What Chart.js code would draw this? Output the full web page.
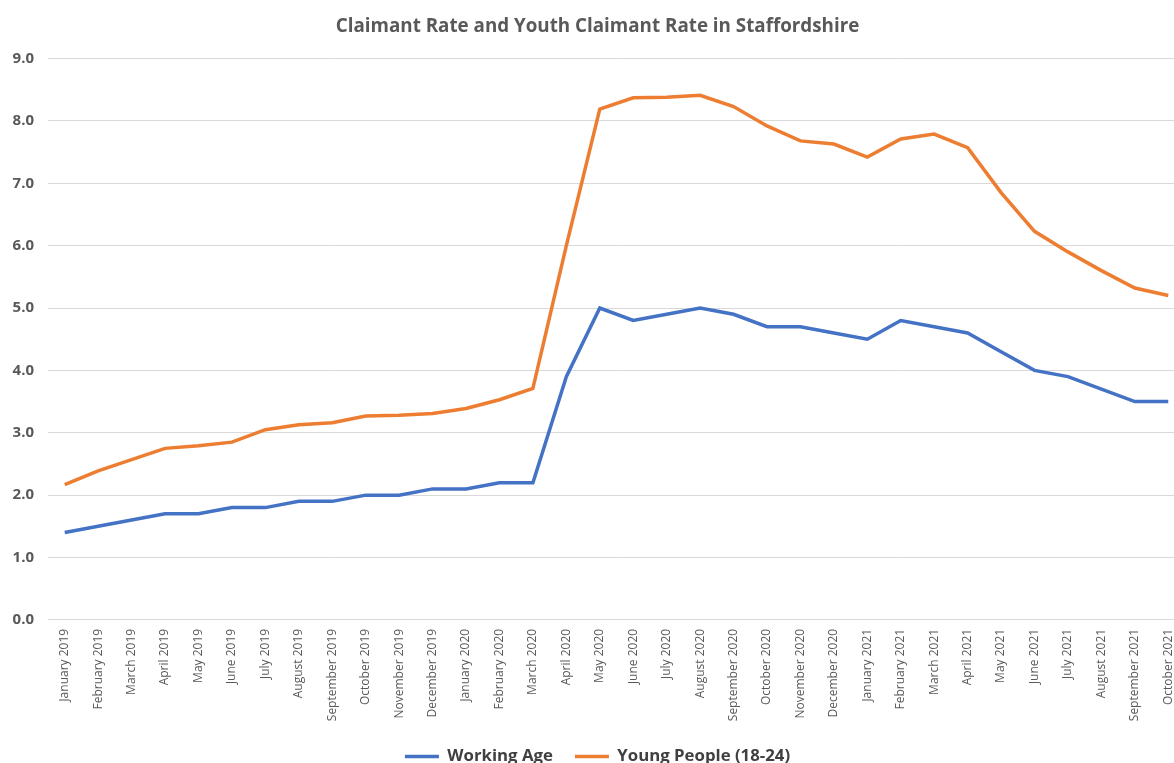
<!DOCTYPE html>
<html lang="en">
<head>
<meta charset="utf-8">
<title>Claimant Rate and Youth Claimant Rate in Staffordshire</title>
<script src="https://cdn.jsdelivr.net/npm/chart.js@4/dist/chart.umd.min.js"></script>
<style>
  html, body { margin: 0; padding: 0; background: #fff; }
  #wrap { width: 1174px; height: 763px; overflow: hidden; position: relative; }
  #claimantChart { display: block; }
</style>
</head>
<body>
<div id="wrap">
  <canvas id="claimantChart" width="1206" height="779"></canvas>
</div>
<script>
// ==========================================
// DATA
// ==========================================
const months = [
  "January 2019", "February 2019", "March 2019", "April 2019", "May 2019",
  "June 2019", "July 2019", "August 2019", "September 2019", "October 2019",
  "November 2019", "December 2019", "January 2020", "February 2020", "March 2020",
  "April 2020", "May 2020", "June 2020", "July 2020", "August 2020",
  "September 2020", "October 2020", "November 2020", "December 2020", "January 2021",
  "February 2021", "March 2021", "April 2021", "May 2021", "June 2021",
  "July 2021", "August 2021", "September 2021", "October 2021",
];

const workingAge = [
  1.4, 1.5, 1.6, 1.7, 1.7, 1.8, 1.8, 1.9, 1.9, 2.0,
  2.0, 2.1, 2.1, 2.2, 2.2, 3.9, 5.0, 4.8, 4.9, 5.0,
  4.9, 4.7, 4.7, 4.6, 4.5, 4.8, 4.7, 4.6, 4.3, 4.0,
  3.9, 3.7, 3.5, 3.5,
];

const youngPeople = [
  2.17, 2.39, 2.57, 2.75, 2.79, 2.85, 3.05, 3.13, 3.16, 3.27,
  3.28, 3.31, 3.39, 3.53, 3.71, 6.0, 8.19, 8.37, 8.38, 8.41,
  8.23, 7.92, 7.68, 7.63, 7.42, 7.71, 7.79, 7.57, 6.85, 6.23,
  5.9, 5.6, 5.32, 5.2,
];

const yTicks = [0, 1, 2, 3, 4, 5, 6, 7, 8, 9];

const FONT = "'Open Sans', 'Noto Sans', sans-serif";
const GREY = "#595959";

// pull the legend up closer to the month labels
const legendLift = {
  id: "legendLift",
  afterLayout(chart) {
    const lg = chart.legend;
    if (!lg) return;
    lg.top -= 4;
    lg.bottom -= 4;
  },
};

// ==========================================
// CHART
// ==========================================
document.addEventListener("DOMContentLoaded", () => {
  const ctx = document.getElementById("claimantChart");
  if (!ctx || typeof Chart === "undefined") return;

  new Chart(ctx, {
    type: "line",
    data: {
      labels: months,
      datasets: [
        {
          label: "Working Age",
          data: workingAge,
          borderColor: "#4472C4",
          backgroundColor: "#4472C4",
          borderWidth: 3.5,
          pointRadius: 0,
          tension: 0,
          pointStyle: "line",
        },
        {
          label: "Young People (18-24)",
          data: youngPeople,
          borderColor: "#ED7D31",
          backgroundColor: "#ED7D31",
          borderWidth: 3.5,
          pointRadius: 0,
          tension: 0,
          pointStyle: "line",
        },
      ],
    },
    plugins: [legendLift],
    options: {
      responsive: false,
      animation: false,
      layout: { padding: { left: 10, right: 21, top: 8, bottom: 0 } },
      scales: {
        x: {
          offset: true,
          grid: { display: false, drawTicks: false },
          border: { display: false },
          ticks: {
            autoSkip: false,
            maxRotation: 90,
            minRotation: 90,
            padding: 9,
            color: GREY,
            font: { family: FONT, size: 12 },
          },
        },
        y: {
          min: 0,
          max: 9,
          afterBuildTicks: (axis) => {
            axis.ticks = yTicks.map((v) => ({ value: v }));
          },
          afterFit: (axis) => {
            axis.width = 38;
          },
          grid: { color: "#d9d9d9", lineWidth: 1, drawTicks: false },
          border: { display: false },
          ticks: {
            padding: 14,
            color: GREY,
            font: { family: FONT, size: 15, weight: "bold" },
            callback: (v) => Number(v).toFixed(1),
          },
        },
      },
      plugins: {
        title: {
          display: true,
          text: "Claimant Rate and Youth Claimant Rate in Staffordshire",
          color: GREY,
          font: { family: FONT, size: 18.8, weight: "bold" },
          padding: { top: 7, bottom: 21 },
        },
        legend: {
          position: "bottom",
          labels: {
            usePointStyle: true,
            pointStyleWidth: 34,
            boxHeight: 4,
            padding: 22,
            color: "#404040",
            font: { family: FONT, size: 16.8, weight: "bold" },
          },
        },
        tooltip: { enabled: false },
      },
    },
  });
});
</script>
</body>
</html>
